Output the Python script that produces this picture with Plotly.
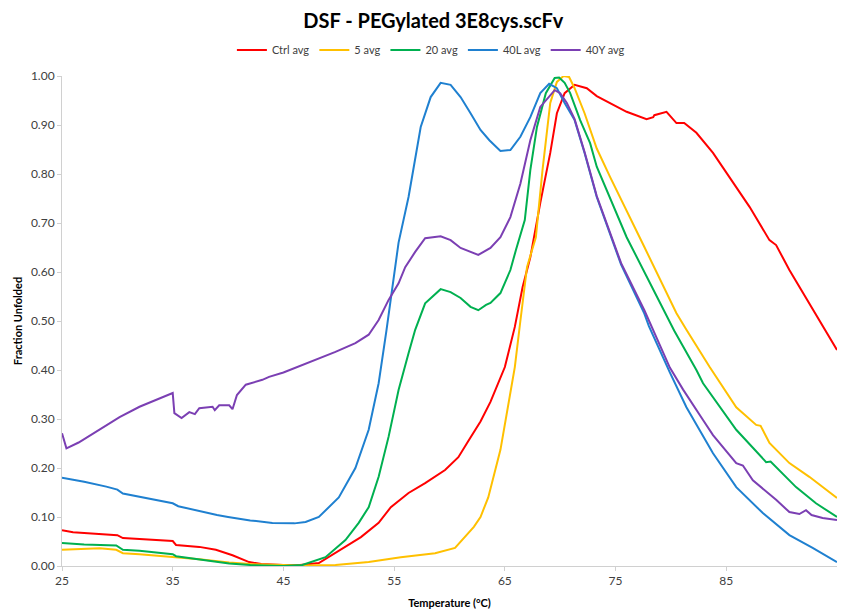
import plotly.graph_objects as go

# ---------------- data ----------------
ctrl_temp = [25, 26, 28, 30, 30.5, 32, 35, 35.3, 37.4, 38.9, 40.4, 41.9, 43, 45, 46.5, 48.2,
             50.2, 52, 53.6, 54.7, 56.3, 57.8, 59.6, 60.8, 61.7, 62.8, 63.7, 65, 65.9, 66.6,
             67.3, 68.2, 69.1, 69.7, 70.4, 71.3, 72.4, 73.3, 76, 77.8, 78.4, 78.5, 79.6, 80.5,
             81.2, 82.3, 83.8, 85.3, 87.1, 88.9, 89.5, 90.7, 92.5, 95]
ctrl_val = [0.073, 0.069, 0.066, 0.063, 0.057, 0.055, 0.051, 0.043, 0.039, 0.033, 0.022, 0.008,
            0.004, 0.002, 0.002, 0.006, 0.033, 0.059, 0.088, 0.12, 0.149, 0.169, 0.196, 0.222,
            0.255, 0.295, 0.335, 0.406, 0.488, 0.569, 0.63, 0.741, 0.843, 0.924, 0.965, 0.982,
            0.975, 0.959, 0.927, 0.912, 0.916, 0.92, 0.927, 0.904, 0.904, 0.884, 0.843, 0.794,
            0.733, 0.665, 0.655, 0.604, 0.537, 0.441]

avg5_temp = [25, 26, 28.4, 29.9, 30.5, 32, 35, 37.4, 40.1, 42, 45, 47, 49.7, 52.7, 55.6, 58.7,
             60.5, 61.4, 62.2, 62.8, 63.5, 64.6, 65.2, 65.9, 66.4, 67.0, 67.8, 68.4, 69.1, 69.7,
             70.3, 70.8, 71.3, 72.2, 73.3, 74.5, 77.6, 80.5, 81.4, 83.5, 85.9, 87.7, 88.1, 88.9,
             90.7, 92.5, 95]
avg5_val = [0.033, 0.034, 0.036, 0.033, 0.026, 0.024, 0.019, 0.014, 0.007, 0.004, 0.002, 0.001,
            0.002, 0.008, 0.018, 0.026, 0.037, 0.059, 0.08, 0.10, 0.14, 0.237, 0.318, 0.406, 0.5,
            0.61, 0.671, 0.808, 0.945, 0.988, 1.0, 0.998, 0.975, 0.924, 0.852, 0.794, 0.651,
            0.516, 0.482, 0.406, 0.324, 0.288, 0.286, 0.251, 0.21, 0.182, 0.139]

avg20_temp = [25, 27, 29.9, 30.5, 32, 35, 35.3, 37.4, 40.1, 42, 45, 46.7, 48.8, 50.6, 51.8, 52.7,
              53.6, 54.5, 55.4, 56.3, 56.9, 57.8, 58.4, 59.2, 60.1, 61, 61.9, 62.6, 63.3, 63.7,
              64.6, 65.5, 66, 66.8, 67.3, 67.9, 68.7, 69.5, 69.9, 70.4, 70.9, 71.8, 72.7, 73.3,
              76, 79, 80.3, 82.3, 82.9, 85.9, 88.6, 89, 89.5, 91.3, 93.1, 95]
avg20_val = [0.047, 0.044, 0.042, 0.033, 0.031, 0.024, 0.02, 0.013, 0.005, 0.002, 0.0, 0.002,
             0.018, 0.053, 0.088, 0.12, 0.182, 0.264, 0.359, 0.434, 0.482, 0.536, 0.549, 0.565,
             0.559, 0.547, 0.529, 0.522, 0.533, 0.537, 0.557, 0.604, 0.645, 0.706, 0.808, 0.896,
             0.965, 0.996, 0.997, 0.986, 0.965, 0.91, 0.863, 0.815, 0.671, 0.537, 0.48, 0.40,
             0.373, 0.278, 0.212, 0.213, 0.202, 0.161, 0.128, 0.10]

avg40l_temp = [25, 27, 29, 30, 30.5, 32, 34, 35, 35.5, 37, 39, 40, 42, 44, 45, 46, 47, 48.2, 50,
               51.5, 52.7, 53.6, 54.3, 55.4, 56.3, 56.9, 57.4, 58.3, 59.2, 60.1, 61, 61.9, 62.8,
               63.6, 64.6, 65.5, 66.4, 67.3, 68.2, 69, 69.7, 70.4, 71.3, 72.2, 73.3, 75.5, 77.6,
               78, 79.9, 81.4, 83.8, 85.9, 88.3, 90.7, 92.8, 95]
avg40l_val = [0.18, 0.172, 0.162, 0.156, 0.148, 0.141, 0.133, 0.128, 0.122, 0.114, 0.104, 0.10,
              0.093, 0.088, 0.087, 0.087, 0.09, 0.10, 0.14, 0.20, 0.278, 0.373, 0.48, 0.66, 0.753,
              0.835, 0.896, 0.957, 0.986, 0.982, 0.957, 0.924, 0.89, 0.869, 0.847, 0.849, 0.876,
              0.916, 0.965, 0.984, 0.975, 0.945, 0.91, 0.843, 0.753, 0.615, 0.515, 0.49, 0.395,
              0.324, 0.23, 0.161, 0.108, 0.063, 0.037, 0.008]

avg40y_temp = [25, 25.4, 26.5, 28.4, 30.2, 32, 33.8, 35, 35.15, 35.8, 36.5, 37, 37.4, 38.6, 38.8,
               39.2, 40.1, 40.4, 40.8, 41.6, 43.1, 43.7, 45, 46.7, 49.7, 51.5, 52.7, 53.6, 54.5,
               55.4, 56, 56.9, 57.8, 59.2, 60.1, 61, 62.6, 63.7, 64.6, 65.5, 66.4, 67.3, 68.2,
               69.5, 70, 70.6, 71.3, 72.2, 73.3, 75.5, 77.6, 79.9, 81.1, 82.9, 83.8, 85.9, 86.5,
               87.4, 89.5, 90.7, 91.6, 92.2, 92.7, 93.7, 95]
avg40y_val = [0.271, 0.24, 0.252, 0.278, 0.304, 0.325, 0.342, 0.353, 0.312, 0.302, 0.314, 0.31,
              0.322, 0.325, 0.318, 0.328, 0.328, 0.32, 0.349, 0.37, 0.38, 0.386, 0.395, 0.41,
              0.437, 0.455, 0.472, 0.502, 0.543, 0.577, 0.61, 0.641, 0.669, 0.673, 0.665, 0.649,
              0.635, 0.649, 0.671, 0.712, 0.78, 0.869, 0.937, 0.971, 0.965, 0.945, 0.912, 0.845,
              0.755, 0.618, 0.522, 0.405, 0.36, 0.298, 0.267, 0.21, 0.205, 0.175, 0.135, 0.11,
              0.106, 0.114, 0.104, 0.098, 0.094]

series_names = ["Ctrl avg", "5 avg", "20 avg", "40L avg", "40Y avg"]
series_colors = ["#FF0000", "#FFC000", "#00B050", "#1F80D0", "#7B3FB3"]
x_ticks = [25, 35, 45, 55, 65, 75, 85, 95]
y_ticks = [0.0, 0.1, 0.2, 0.3, 0.4, 0.5, 0.6, 0.7, 0.8, 0.9, 1.0]

series_data = [
    (ctrl_temp, ctrl_val),
    (avg5_temp, avg5_val),
    (avg20_temp, avg20_val),
    (avg40l_temp, avg40l_val),
    (avg40y_temp, avg40y_val),
]

FONT = "Lato, 'Open Sans', sans-serif"

fig = go.Figure()
for name, color, (xs, ys) in zip(series_names, series_colors, series_data):
    fig.add_trace(go.Scatter(x=xs, y=ys, name=name, mode="lines",
                             line=dict(color=color, width=2)))

# page body has an 8px margin, so the figure is sized to fit inside the window
fig.update_layout(
    width=829, height=601,
    paper_bgcolor="white", plot_bgcolor="white",
    margin=dict(l=54, r=0, t=68, b=43, autoexpand=False),
    font=dict(family=FONT, size=11, color="#404040"),
    title=dict(text="<b>DSF - PEGylated 3E8cys.scFv</b>", x=0.513, xanchor="center",
               y=0.978, yanchor="middle",
               font=dict(family=FONT, size=20, color="black")),
    legend=dict(orientation="h", x=0.476, xanchor="center", y=1.053, yanchor="middle",
                font=dict(family=FONT, size=11, color="#404040"),
                itemwidth=30, tracegroupgap=0, bgcolor="rgba(0,0,0,0)"),
    showlegend=True,
)

fig.update_xaxes(
    range=[25, 95], tickvals=x_ticks, ticktext=[str(v) for v in x_ticks],
    showgrid=False, zeroline=False, automargin=False,
    showline=True, linecolor="#D0D0D0", linewidth=1,
    ticks="outside", ticklen=4, tickcolor="#D0D0D0",
    tickfont=dict(family=FONT, size=12, color="#404040"),
    title=dict(text="<b>Temperature (°C)</b>", standoff=11,
               font=dict(family=FONT, size=11, color="black")),
)
fig.update_yaxes(
    range=[0, 1.0], tickvals=y_ticks, ticktext=[f"{v:.2f}" for v in y_ticks],
    showgrid=False, zeroline=False, automargin=False,
    showline=True, linecolor="#D0D0D0", linewidth=1,
    ticks="outside", ticklen=4, tickcolor="#D0D0D0",
    tickfont=dict(family=FONT, size=12, color="#404040"),
    title=dict(text="<b>Fraction Unfolded</b>", standoff=6,
               font=dict(family=FONT, size=11, color="black")),
)

fig.write_html("out.html")
